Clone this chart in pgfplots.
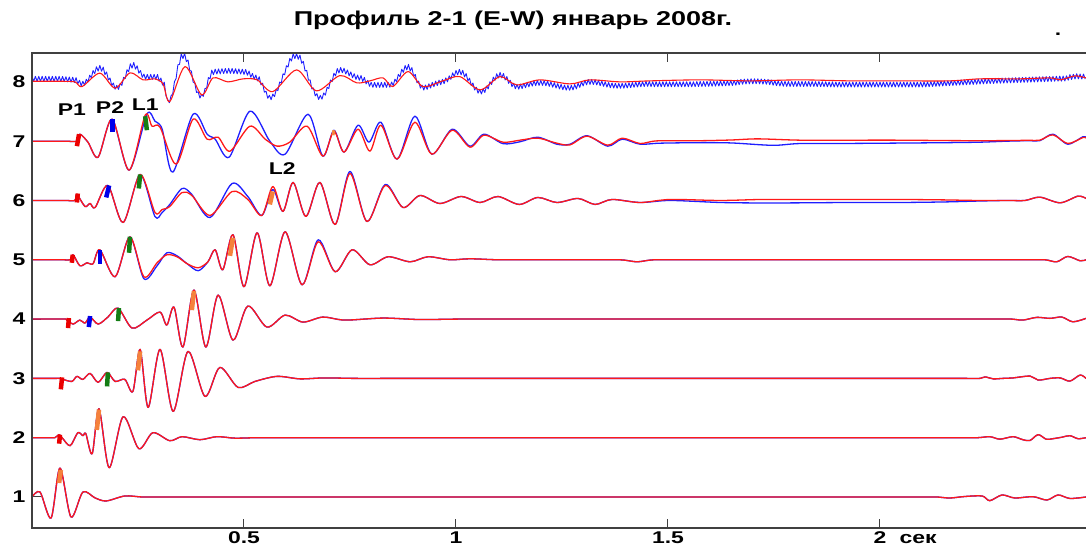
\documentclass[border=0pt]{standalone}
\usepackage{fontspec}
\setmainfont{Liberation Sans}[FakeStretch=1.35]
\usepackage{pgfplots}
\usepackage{pgfplotstable}
\pgfplotsset{compat=1.18}
\definecolor{tr}{RGB}{255,25,25}
\definecolor{tb}{RGB}{30,30,255}
\definecolor{mg}{RGB}{20,125,20}
\definecolor{mo}{RGB}{245,130,60}
\definecolor{mb}{RGB}{0,0,235}
\definecolor{mr}{RGB}{235,0,0}

\pgfplotstableread{
x y
0.000 1.000
0.019 1.084
0.045 0.646
0.066 1.489
0.092 0.663
0.120 1.084
0.149 0.983
0.175 0.933
0.219 1.017
0.260 1.000
0.310 1.000
0.380 1.000
0.480 1.000
0.620 1.000
0.800 1.000
1.000 1.000
1.200 1.000
1.400 1.000
1.600 1.000
1.800 1.000
1.950 1.000
2.050 1.000
2.100 1.000
2.134 1.000
2.165 0.983
2.200 1.008
2.241 1.017
2.259 0.938
2.288 1.034
2.318 0.983
2.361 1.005
2.394 0.949
2.420 1.034
2.448 0.975
2.486 1.000
}\trA

\pgfplotstableread{
x y
0.000 2.000
0.020 2.000
0.040 2.000
0.054 2.000
0.064 2.051
0.071 2.000
0.090 1.865
0.108 2.084
0.120 2.034
0.127 2.067
0.142 1.730
0.158 2.489
0.182 1.494
0.215 2.354
0.252 1.815
0.285 2.084
0.325 1.949
0.354 2.017
0.396 1.966
0.436 2.017
0.479 1.992
0.530 2.000
0.600 2.000
0.700 2.000
0.850 2.000
1.000 2.000
1.200 2.000
1.400 2.000
1.600 2.000
1.800 2.000
1.950 2.000
2.080 2.000
2.170 2.000
2.230 2.000
2.259 2.017
2.283 1.975
2.314 2.017
2.337 1.966
2.354 1.954
2.373 2.051
2.392 1.975
2.408 1.983
2.429 2.008
2.448 2.034
2.467 1.983
2.486 2.000
}\trB

\pgfplotstableread{
x y
0.000 3.000
0.030 3.000
0.055 3.000
0.066 3.000
0.073 2.983
0.094 2.949
0.106 3.034
0.120 2.983
0.137 3.084
0.156 2.933
0.177 3.101
0.196 2.949
0.219 2.983
0.238 2.781
0.255 3.489
0.274 2.511
0.302 3.489
0.333 2.444
0.368 3.455
0.408 2.696
0.443 3.185
0.486 2.848
0.526 2.949
0.578 3.034
0.632 2.992
0.690 3.008
0.760 3.000
0.860 3.000
1.000 3.000
1.200 3.000
1.400 3.000
1.600 3.000
1.800 3.000
1.950 3.000
2.070 3.000
2.150 3.000
2.200 3.000
2.236 3.000
2.248 3.025
2.267 2.992
2.290 3.000
2.314 3.008
2.354 3.039
2.373 2.971
2.401 3.000
2.425 3.008
2.448 2.954
2.472 3.056
2.486 3.000
}\trC

\pgfplotstableread{
x y
0.000 4.000
0.030 4.000
0.060 4.000
0.080 4.000
0.085 3.966
0.097 3.916
0.113 3.983
0.125 3.933
0.137 4.034
0.156 3.916
0.179 4.034
0.203 4.185
0.236 3.848
0.271 3.983
0.302 4.118
0.318 3.899
0.335 4.202
0.356 3.528
0.382 4.489
0.410 3.528
0.439 4.405
0.474 3.646
0.509 4.219
0.554 3.865
0.597 4.067
0.639 3.949
0.686 4.034
0.738 3.983
0.828 4.017
0.915 3.992
1.009 4.000
1.150 4.000
1.350 4.000
1.550 4.000
1.750 4.000
1.950 4.000
2.100 4.000
2.200 4.000
2.270 4.000
2.310 4.000
2.337 3.983
2.370 4.029
2.401 4.012
2.429 4.034
2.455 3.954
2.486 4.012
}\trD

% blue trace 8 (with the fine high-frequency noise)
\pgfplotstableread{
x y
0.000 8.093
0.004 8.009
0.008 8.093
0.012 8.009
0.016 8.093
0.020 8.009
0.024 8.093
0.028 8.009
0.032 8.093
0.036 8.009
0.040 8.093
0.044 8.009
0.048 8.093
0.052 8.009
0.056 8.093
0.060 8.009
0.064 8.093
0.068 8.008
0.072 8.091
0.076 8.005
0.080 8.087
0.084 8.000
0.088 8.082
0.092 7.996
0.096 8.078
0.100 7.990
0.104 8.071
0.108 7.965
0.112 8.027
0.116 7.934
0.120 8.010
0.124 7.943
0.128 8.044
0.132 7.994
0.136 8.113
0.140 8.068
0.144 8.192
0.148 8.139
0.152 8.254
0.156 8.182
0.160 8.278
0.164 8.179
0.168 8.248
0.172 8.123
0.176 8.167
0.180 8.032
0.184 8.066
0.188 7.939
0.192 7.980
0.196 7.876
0.200 7.941
0.204 7.873
0.208 7.974
0.212 7.941
0.216 8.077
0.220 8.057
0.224 8.205
0.228 8.171
0.232 8.306
0.236 8.232
0.240 8.327
0.244 8.215
0.248 8.272
0.252 8.147
0.256 8.191
0.260 8.077
0.264 8.131
0.268 8.044
0.272 8.126
0.276 8.042
0.280 8.126
0.284 8.042
0.288 8.126
0.292 8.042
0.296 8.125
0.300 8.011
0.304 8.065
0.308 7.946
0.312 7.995
0.316 7.764
0.320 7.702
0.324 7.649
0.328 7.765
0.332 7.800
0.336 8.004
0.340 8.061
0.344 8.287
0.348 8.296
0.352 8.473
0.356 8.393
0.360 8.482
0.364 8.342
0.368 8.370
0.372 8.192
0.376 8.182
0.380 7.997
0.384 7.980
0.388 7.822
0.392 7.832
0.396 7.727
0.400 7.790
0.404 7.755
0.408 7.888
0.412 7.896
0.416 8.072
0.420 8.051
0.424 8.198
0.428 8.122
0.432 8.214
0.436 8.132
0.440 8.218
0.444 8.136
0.448 8.222
0.452 8.140
0.456 8.225
0.460 8.142
0.464 8.227
0.468 8.143
0.472 8.226
0.476 8.140
0.480 8.222
0.484 8.136
0.488 8.218
0.492 8.132
0.496 8.213
0.500 8.127
0.504 8.208
0.508 8.111
0.512 8.182
0.516 8.078
0.520 8.142
0.524 8.044
0.528 8.114
0.532 8.017
0.536 8.087
0.540 7.949
0.544 7.978
0.548 7.827
0.552 7.843
0.556 7.724
0.560 7.773
0.564 7.700
0.568 7.794
0.572 7.750
0.576 7.874
0.580 7.852
0.584 7.997
0.588 7.982
0.592 8.135
0.596 8.120
0.600 8.272
0.604 8.250
0.608 8.396
0.612 8.352
0.616 8.475
0.620 8.392
0.624 8.477
0.628 8.381
0.632 8.452
0.636 8.315
0.640 8.345
0.644 8.185
0.648 8.193
0.652 8.029
0.656 8.033
0.660 7.880
0.664 7.895
0.668 7.764
0.672 7.801
0.676 7.703
0.680 7.772
0.684 7.708
0.688 7.812
0.692 7.777
0.696 7.909
0.700 7.887
0.704 8.032
0.708 8.005
0.712 8.145
0.716 8.101
0.720 8.225
0.724 8.150
0.728 8.243
0.732 8.153
0.736 8.230
0.740 8.132
0.744 8.201
0.748 8.101
0.752 8.168
0.756 8.069
0.760 8.137
0.764 8.042
0.768 8.114
0.772 8.027
0.776 8.107
0.780 8.007
0.784 8.075
0.788 7.966
0.792 8.025
0.796 7.925
0.800 7.993
0.804 7.908
0.808 7.991
0.812 7.907
0.816 7.991
0.820 7.907
0.824 7.991
0.828 7.907
0.832 7.991
0.836 7.907
0.840 7.991
0.844 7.910
0.848 7.997
0.852 7.938
0.856 8.046
0.860 8.002
0.864 8.126
0.868 8.086
0.872 8.213
0.876 8.161
0.880 8.277
0.884 8.202
0.888 8.294
0.892 8.183
0.896 8.240
0.900 8.099
0.904 8.125
0.908 7.985
0.912 8.012
0.916 7.895
0.920 7.945
0.924 7.862
0.928 7.947
0.932 7.873
0.936 7.967
0.940 7.896
0.944 7.992
0.948 7.918
0.952 8.012
0.956 7.937
0.960 8.030
0.964 7.952
0.968 8.042
0.972 7.971
0.976 8.067
0.980 8.001
0.984 8.102
0.988 8.043
0.992 8.152
0.996 8.088
1.000 8.192
1.004 8.118
1.008 8.211
1.012 8.119
1.016 8.195
1.020 8.084
1.024 8.140
1.028 8.017
1.032 8.062
1.036 7.938
1.040 7.981
1.044 7.862
1.048 7.910
1.052 7.809
1.056 7.875
1.060 7.795
1.064 7.882
1.068 7.821
1.072 7.928
1.076 7.881
1.080 8.002
1.084 7.957
1.088 8.080
1.092 8.025
1.096 8.137
1.100 8.065
1.104 8.160
1.108 8.067
1.112 8.141
1.116 8.032
1.120 8.090
1.124 7.975
1.128 8.028
1.132 7.919
1.136 7.977
1.140 7.884
1.144 7.958
1.148 7.877
1.152 7.964
1.156 7.887
1.160 7.977
1.164 7.901
1.168 7.992
1.172 7.916
1.176 8.007
1.180 7.929
1.184 8.018
1.188 7.937
1.192 8.024
1.196 7.941
1.200 8.025
1.204 7.940
1.208 8.022
1.212 7.934
1.216 8.014
1.220 7.924
1.224 8.002
1.228 7.911
1.232 7.987
1.236 7.896
1.240 7.972
1.244 7.881
1.248 7.957
1.252 7.868
1.256 7.947
1.260 7.861
1.264 7.942
1.268 7.858
1.272 7.942
1.276 7.865
1.280 7.955
1.284 7.882
1.288 7.977
1.292 7.907
1.296 8.004
1.300 7.932
1.304 8.027
1.308 7.950
1.312 8.040
1.316 7.957
1.320 8.041
1.324 7.955
1.328 8.036
1.332 7.948
1.336 8.027
1.340 7.937
1.344 8.015
1.348 7.925
1.352 8.002
1.356 7.912
1.360 7.990
1.364 7.902
1.368 7.982
1.372 7.896
1.376 7.977
1.380 7.892
1.384 7.975
1.388 7.892
1.392 7.976
1.396 7.894
1.400 7.979
1.404 7.898
1.408 7.984
1.412 7.903
1.416 7.990
1.420 7.909
1.424 7.995
1.428 7.914
1.432 8.000
1.436 7.918
1.440 8.004
1.444 7.922
1.448 8.007
1.452 7.924
1.456 8.008
1.460 7.921
1.464 8.002
1.468 7.918
1.472 8.002
1.476 7.918
1.480 8.002
1.484 7.918
1.488 8.002
1.492 7.918
1.496 8.002
1.500 7.918
1.504 8.002
1.508 7.918
1.512 8.002
1.516 7.918
1.520 8.002
1.524 7.918
1.528 8.002
1.532 7.918
1.536 8.002
1.540 7.918
1.544 8.002
1.548 7.918
1.552 8.002
1.556 7.918
1.560 8.002
1.564 7.920
1.568 8.005
1.572 7.922
1.576 8.007
1.580 7.923
1.584 8.007
1.588 7.924
1.592 8.009
1.596 7.925
1.600 8.009
1.604 7.927
1.608 8.012
1.612 7.928
1.616 8.012
1.620 7.930
1.624 8.015
1.628 7.932
1.632 8.017
1.636 7.934
1.640 8.019
1.644 7.937
1.648 8.022
1.652 7.940
1.656 8.025
1.660 7.945
1.664 8.032
1.668 7.953
1.672 8.042
1.676 7.961
1.680 8.047
1.684 7.964
1.688 8.049
1.692 7.967
1.696 8.052
1.700 7.968
1.704 8.052
1.708 7.968
1.712 8.052
1.716 7.967
1.720 8.049
1.724 7.963
1.728 8.045
1.732 7.960
1.736 8.042
1.740 7.953
1.744 8.032
1.748 7.943
1.752 8.022
1.756 7.936
1.760 8.017
1.764 7.931
1.768 8.012
1.772 7.927
1.776 8.009
1.780 7.924
1.784 8.007
1.788 7.923
1.792 8.007
1.796 7.923
1.800 8.007
1.804 7.923
1.808 8.007
1.812 7.923
1.816 8.007
1.820 7.923
1.824 8.007
1.828 7.923
1.832 8.007
1.836 7.923
1.840 8.007
1.844 7.922
1.848 8.005
1.852 7.921
1.856 8.005
1.860 7.920
1.864 8.002
1.868 7.918
1.872 8.002
1.876 7.917
1.880 7.999
1.884 7.915
1.888 7.999
1.892 7.914
1.896 7.997
1.900 7.913
1.904 7.997
1.908 7.913
1.912 7.997
1.916 7.913
1.920 7.997
1.924 7.913
1.928 7.997
1.932 7.913
1.936 7.997
1.940 7.913
1.944 7.997
1.948 7.913
1.952 7.997
1.956 7.913
1.960 7.997
1.964 7.913
1.968 7.997
1.972 7.913
1.976 7.997
1.980 7.913
1.984 7.997
1.988 7.913
1.992 7.997
1.996 7.913
2.000 7.997
2.004 7.913
2.008 7.997
2.012 7.913
2.016 7.997
2.020 7.913
2.024 7.997
2.028 7.913
2.032 7.997
2.036 7.913
2.040 7.997
2.044 7.913
2.048 7.997
2.052 7.913
2.056 7.997
2.060 7.913
2.064 7.997
2.068 7.913
2.072 7.997
2.076 7.913
2.080 7.997
2.084 7.913
2.088 7.997
2.092 7.913
2.096 7.997
2.100 7.914
2.104 7.999
2.108 7.916
2.112 8.001
2.116 7.919
2.120 8.004
2.124 7.922
2.128 8.007
2.132 7.925
2.136 8.010
2.140 7.928
2.144 8.013
2.148 7.931
2.152 8.016
2.156 7.934
2.160 8.019
2.164 7.937
2.168 8.022
2.172 7.940
2.176 8.025
2.180 7.943
2.184 8.028
2.188 7.946
2.192 8.031
2.196 7.949
2.200 8.034
2.204 7.952
2.208 8.037
2.212 7.955
2.216 8.040
2.220 7.958
2.224 8.043
2.228 7.961
2.232 8.046
2.236 7.964
2.240 8.049
2.244 7.967
2.248 8.052
2.252 7.970
2.256 8.055
2.260 7.972
2.264 8.057
2.268 7.974
2.272 8.059
2.276 7.976
2.280 8.061
2.284 7.978
2.288 8.063
2.292 7.980
2.296 8.065
2.300 7.982
2.304 8.067
2.308 7.984
2.312 8.069
2.316 7.986
2.320 8.071
2.324 7.988
2.328 8.073
2.332 7.990
2.336 8.075
2.340 7.992
2.344 8.077
2.348 7.994
2.352 8.079
2.356 7.996
2.360 8.081
2.364 7.998
2.368 8.083
2.372 8.000
2.376 8.085
2.380 8.002
2.384 8.087
2.388 8.004
2.392 8.089
2.396 8.006
2.400 8.091
2.404 8.008
2.408 8.093
2.412 8.010
2.416 8.095
2.420 8.012
2.424 8.097
2.428 8.013
2.432 8.097
2.436 8.016
2.440 8.102
2.444 8.028
2.448 8.122
2.452 8.041
2.456 8.127
2.460 8.048
2.464 8.137
2.468 8.051
2.472 8.132
2.476 8.048
2.480 8.132
2.484 8.048
}\trHb

\begin{document}
\begin{tikzpicture}
\begin{axis}[
  scale only axis, width=1054pt, height=475pt,
  xmin=0, xmax=2.486, ymin=0.477, ymax=8.487,
  axis line style={draw=none},
  xtick={0.5,1,1.5,2}, xticklabels={0.5,1,1.5,2},
  extra x ticks={2.09}, extra x tick labels={сек},
  extra x tick style={major tick length=0pt},
  ytick={1,2,3,4,5,6,7,8}, yticklabels={1,2,3,4,5,6,7,8},
  xtick pos=both, ytick pos=left,
  tick align=inside, major tick length=9pt,
  tick style={black!75, line width=1pt},
  /pgf/number format/assume math mode=true,
  ticklabel style={font=\fontsize{17}{19}\selectfont\bfseries},
  xticklabel style={text height=12pt, text depth=0pt},
  yticklabel style={xshift=-3pt},
  every axis plot/.append style={line join=round},
]
% ---- blue traces ----
\addplot[tb, line width=1.3pt, smooth] table {\trA};
\addplot[tb, line width=1.3pt, smooth] table {\trB};
\addplot[tb, line width=1.3pt, smooth] table {\trC};
\addplot[tb, line width=1.3pt, smooth] table {\trD};
\addplot[tb, line width=1.3pt, smooth] coordinates {
(0.000,5.000)(0.040,5.000)(0.075,5.000)(0.090,5.000)(0.097,5.084)(0.113,4.899)(0.130,4.949)(0.144,4.933)
(0.160,5.169)(0.196,4.713)(0.231,5.388)(0.264,4.680)(0.295,4.899)(0.318,5.118)(0.342,5.067)(0.366,4.933)
(0.392,4.815)(0.415,4.966)(0.432,5.169)(0.450,4.831)(0.474,5.422)(0.500,4.545)(0.531,5.455)(0.561,4.562)
(0.597,5.472)(0.637,4.578)(0.675,5.337)(0.715,4.798)(0.755,5.169)(0.797,4.916)(0.840,5.051)(0.892,4.966)
(0.934,5.051)(0.986,5.000)(1.033,5.017)(1.100,5.000)(1.200,5.000)(1.300,5.000)(1.387,5.000)(1.427,4.966)
(1.467,5.000)(1.550,5.000)(1.700,5.000)(1.900,5.000)(2.100,5.000)(2.250,5.000)(2.340,5.000)(2.389,5.000)
(2.417,4.966)(2.443,5.056)(2.472,4.983)(2.486,5.000)};
\addplot[tb, line width=1.3pt, smooth] coordinates {
(0.000,6.000)(0.040,6.000)(0.080,6.000)(0.101,6.000)(0.106,6.101)(0.125,5.899)(0.137,5.949)(0.149,5.882)
(0.179,6.253)(0.215,5.629)(0.255,6.438)(0.290,5.730)(0.307,5.798)(0.325,5.933)(0.354,6.202)(0.377,6.101)
(0.420,5.713)(0.472,6.287)(0.509,6.067)(0.542,5.747)(0.568,6.185)(0.592,5.815)(0.616,6.304)(0.646,5.730)
(0.679,6.304)(0.715,5.595)(0.750,6.489)(0.790,5.646)(0.833,6.270)(0.875,5.882)(0.915,6.084)(0.962,5.949)
(1.012,6.067)(1.057,5.966)(1.099,6.067)(1.149,5.933)(1.193,6.051)(1.238,5.966)(1.288,6.034)(1.328,5.933)
(1.368,6.017)(1.434,5.966)(1.505,6.000)(1.623,5.966)(1.720,5.958)(1.811,5.960)(1.930,5.966)(2.047,5.966)
(2.150,5.975)(2.230,5.990)(2.300,6.000)(2.342,6.000)(2.377,6.056)(2.425,5.961)(2.467,6.073)(2.486,6.034)};
\addplot[tb, line width=1.3pt, smooth] coordinates {
(0.000,7.000)(0.040,7.000)(0.080,7.000)(0.106,7.000)(0.113,7.118)(0.132,6.983)(0.156,6.730)(0.189,7.371)
(0.229,6.511)(0.271,7.455)(0.290,7.337)(0.307,7.202)(0.332,6.477)(0.380,7.455)(0.413,7.118)(0.432,7.034)
(0.465,6.730)(0.514,7.506)(0.561,7.000)(0.597,6.781)(0.651,7.455)(0.686,6.747)(0.712,7.185)(0.736,6.815)
(0.769,7.270)(0.795,6.983)(0.823,7.320)(0.861,6.696)(0.903,7.422)(0.943,6.781)(0.991,7.202)(1.033,6.916)
(1.066,7.118)(1.111,6.958)(1.151,6.990)(1.193,7.067)(1.238,6.949)(1.269,6.949)(1.309,7.092)(1.358,6.916)
(1.392,7.034)(1.434,6.949)(1.480,6.966)(1.575,6.975)(1.650,6.970)(1.747,6.930)(1.811,6.960)(1.930,6.962)
(2.047,6.968)(2.160,6.975)(2.236,6.983)(2.300,7.000)(2.350,7.008)(2.377,7.008)(2.408,7.118)(2.443,6.949)
(2.479,7.076)(2.486,7.060)};
\addplot[tb, line width=0.9pt] table {\trHb};
% ---- red traces ----
\addplot[tr, line width=1.3pt, smooth] table {\trA};
\addplot[tr, line width=1.3pt, smooth] table {\trB};
\addplot[tr, line width=1.3pt, smooth] table {\trC};
\addplot[tr, line width=1.3pt, smooth] table {\trD};
\addplot[tr, line width=1.3pt, smooth] coordinates {
(0.000,5.000)(0.040,5.000)(0.075,5.000)(0.090,5.000)(0.097,5.084)(0.113,4.899)(0.130,4.949)(0.144,4.933)
(0.160,5.169)(0.196,4.713)(0.231,5.388)(0.264,4.713)(0.295,4.949)(0.318,5.084)(0.342,5.051)(0.366,4.933)
(0.392,4.865)(0.415,4.966)(0.432,5.169)(0.450,4.831)(0.474,5.422)(0.500,4.545)(0.531,5.455)(0.561,4.562)
(0.597,5.472)(0.637,4.578)(0.675,5.304)(0.715,4.798)(0.755,5.169)(0.797,4.916)(0.840,5.051)(0.892,4.966)
(0.934,5.051)(0.986,5.000)(1.033,5.017)(1.100,5.000)(1.200,5.000)(1.300,5.000)(1.387,5.000)(1.427,4.966)
(1.467,5.000)(1.550,5.000)(1.700,5.000)(1.900,5.000)(2.100,5.000)(2.250,5.000)(2.340,5.000)(2.389,5.000)
(2.417,4.966)(2.443,5.056)(2.472,4.983)(2.486,5.000)};
\addplot[tr, line width=1.3pt, smooth] coordinates {
(0.000,6.000)(0.040,6.000)(0.080,6.000)(0.101,6.000)(0.106,6.101)(0.125,5.899)(0.137,5.949)(0.149,5.882)
(0.179,6.253)(0.215,5.629)(0.255,6.438)(0.290,5.798)(0.307,5.848)(0.325,5.899)(0.354,6.135)(0.377,6.084)
(0.420,5.747)(0.472,6.152)(0.509,6.017)(0.542,5.747)(0.568,6.236)(0.592,5.815)(0.616,6.304)(0.646,5.730)
(0.679,6.304)(0.715,5.595)(0.750,6.455)(0.790,5.646)(0.833,6.253)(0.875,5.882)(0.915,6.084)(0.962,5.949)
(1.012,6.067)(1.057,5.966)(1.099,6.067)(1.149,5.933)(1.193,6.051)(1.238,5.966)(1.288,6.034)(1.328,5.933)
(1.368,6.017)(1.434,5.966)(1.505,6.017)(1.623,6.000)(1.720,6.017)(1.811,6.017)(1.930,6.017)(2.047,6.017)
(2.150,6.010)(2.230,6.000)(2.300,6.000)(2.342,6.000)(2.377,6.056)(2.425,5.961)(2.467,6.073)(2.486,6.034)};
\addplot[tr, line width=1.3pt, smooth] coordinates {
(0.000,7.000)(0.040,7.000)(0.080,7.000)(0.106,7.000)(0.113,7.118)(0.132,6.983)(0.156,6.730)(0.189,7.371)
(0.229,6.511)(0.267,7.438)(0.283,7.253)(0.302,7.236)(0.340,6.612)(0.380,7.371)(0.413,7.034)(0.439,7.067)
(0.467,6.831)(0.514,7.253)(0.550,7.034)(0.578,6.916)(0.608,6.983)(0.649,7.253)(0.686,6.747)(0.712,7.169)
(0.736,6.815)(0.769,7.202)(0.797,6.831)(0.823,7.270)(0.861,6.696)(0.903,7.320)(0.943,6.781)(0.991,7.185)
(1.033,6.899)(1.066,7.101)(1.111,6.983)(1.151,7.017)(1.193,7.051)(1.238,6.966)(1.269,6.938)(1.309,7.084)
(1.358,6.933)(1.392,7.051)(1.434,6.961)(1.474,7.005)(1.575,7.008)(1.650,7.020)(1.712,7.039)(1.811,7.017)
(1.930,7.017)(2.047,7.017)(2.160,7.010)(2.236,7.008)(2.300,7.010)(2.350,7.015)(2.377,7.017)(2.408,7.106)
(2.443,6.961)(2.479,7.062)(2.486,7.051)};
\addplot[tr, line width=1.1pt, smooth] coordinates {
(0.000,8.010)(0.066,8.010)(0.101,8.000)(0.118,7.921)(0.160,8.147)(0.196,7.894)(0.231,8.152)(0.262,8.034)
(0.290,8.051)(0.309,7.966)(0.325,7.668)(0.361,8.258)(0.400,7.781)(0.427,8.067)(0.462,8.000)(0.498,8.051)
(0.531,8.034)(0.568,7.836)(0.624,8.202)(0.671,7.848)(0.726,8.106)(0.766,7.983)(0.797,8.017)(0.828,8.067)
(0.851,7.921)(0.887,8.174)(0.922,7.921)(0.969,8.017)(1.009,8.089)(1.057,7.865)(1.104,8.089)(1.143,7.949)
(1.198,8.034)(1.269,7.966)(1.316,8.034)(1.387,8.000)(1.458,8.017)(1.575,8.034)(1.693,8.017)(1.811,8.034)
(1.929,8.017)(2.047,8.017)(2.165,8.017)(2.236,8.051)(2.330,8.051)(2.401,8.067)(2.425,8.034)(2.460,8.101)
(2.486,8.067)};
% ---- picks ----
\addplot[mr, line width=4.5pt] coordinates {(0.106,6.916)(0.111,7.118)};
\addplot[mb, line width=4.5pt] coordinates {(0.190,7.152)(0.190,7.371)};
\addplot[mg, line width=4.5pt] coordinates {(0.271,7.185)(0.267,7.421)};
\addplot[mo, line width=3pt] coordinates {(0.710,7.101)(0.712,7.185)};
\addplot[mr, line width=4.5pt] coordinates {(0.106,5.966)(0.108,6.118)};
\addplot[mb, line width=4.5pt] coordinates {(0.175,6.051)(0.182,6.253)};
\addplot[mg, line width=4.5pt] coordinates {(0.252,6.202)(0.255,6.438)};
\addplot[mo, line width=4.5pt] coordinates {(0.561,5.933)(0.568,6.152)};
\addplot[mr, line width=4.5pt] coordinates {(0.094,4.949)(0.096,5.084)};
\addplot[mb, line width=4.5pt] coordinates {(0.160,4.933)(0.160,5.169)};
\addplot[mg, line width=4.5pt] coordinates {(0.229,5.118)(0.231,5.388)};
\addplot[mo, line width=4.5pt] coordinates {(0.467,5.067)(0.474,5.371)};
\addplot[mr, line width=4.5pt] coordinates {(0.085,3.848)(0.087,4.017)};
\addplot[mb, line width=4.5pt] coordinates {(0.134,3.865)(0.137,4.051)};
\addplot[mg, line width=4.5pt] coordinates {(0.203,3.966)(0.205,4.185)};
\addplot[mo, line width=4.5pt] coordinates {(0.377,4.152)(0.382,4.472)};
\addplot[mr, line width=4.5pt] coordinates {(0.068,2.815)(0.071,3.017)};
\addplot[mg, line width=4.5pt] coordinates {(0.177,2.865)(0.179,3.101)};
\addplot[mo, line width=4.5pt] coordinates {(0.250,3.135)(0.255,3.455)};
\addplot[mr, line width=4.5pt] coordinates {(0.064,1.899)(0.066,2.051)};
\addplot[mo, line width=4.5pt] coordinates {(0.153,2.130)(0.158,2.472)};
\addplot[mo, line width=4.5pt] coordinates {(0.064,1.236)(0.068,1.455)};
% ---- labels ----
\node[font=\fontsize{17}{19}\selectfont\bfseries] at (axis cs:0.094,7.526) {P1};
\node[font=\fontsize{17}{19}\selectfont\bfseries] at (axis cs:0.184,7.56) {P2};
\node[font=\fontsize{17}{19}\selectfont\bfseries] at (axis cs:0.267,7.61) {L1};
\node[font=\fontsize{17}{19}\selectfont\bfseries] at (axis cs:0.590,6.53) {L2};
\end{axis}
\draw[black!75, line width=1.2pt] (1054pt,0pt) -- (0pt,0pt) -- (0pt,475pt) -- (1054pt,475pt);
\node[font=\fontsize{20}{22}\selectfont\bfseries] at (481pt,508pt) {Профиль 2-1 (E-W) январь 2008г.};
\node[font=\fontsize{17}{19}\selectfont\bfseries] at (1026pt,494pt) {.};
\pgfresetboundingbox
\path[use as bounding box] (-32pt,-24pt) rectangle (1054pt,528pt);
\end{tikzpicture}
\end{document}
